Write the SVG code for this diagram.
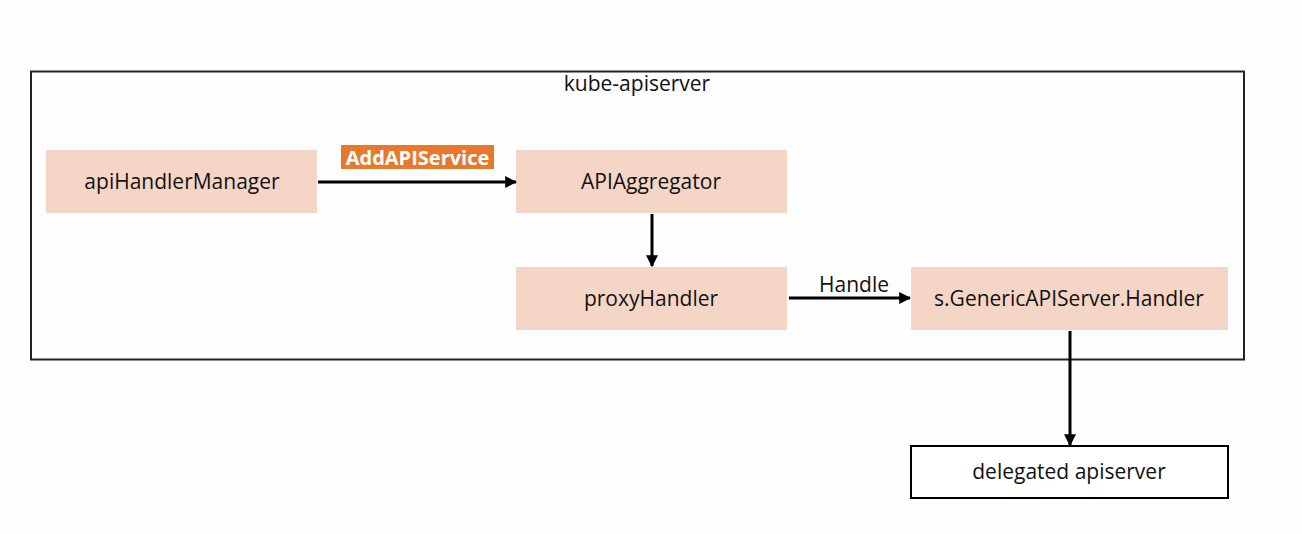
<svg xmlns="http://www.w3.org/2000/svg" width="1302" height="534" viewBox="0 0 1302 534">
<defs>
<style>
.box{fill:#F5D6C6;stroke:none}
.wbox{fill:#FFFFFF;stroke:#000;stroke-width:2}
.t{font-family:"Open Sans","Liberation Sans",sans-serif;font-size:21px;fill:#111;text-anchor:middle}
.c{stroke:#000;stroke-width:3;fill:none;marker-end:url(#ah)}
</style>
<marker id="ah" viewBox="0 0 10 10" refX="9" refY="5" markerWidth="4" markerHeight="4" orient="auto" markerUnits="strokeWidth">
<path d="M0,0 L10,5 L0,10 z" fill="#000"/>
</marker>
</defs>
<rect width="1302" height="534" fill="#FEFEFE"/>
<g id="kube-apiserver">
<rect x="31" y="71.5" width="1213" height="288" fill="none" stroke="#222" stroke-width="2"/>
<text class="t" x="637" y="91">kube-apiserver</text>
</g>
<g id="apiHandlerManager">
<rect class="box" x="46" y="150" width="271" height="63"/>
<text class="t" x="182" y="189">apiHandlerManager</text>
</g>
<g id="APIAggregator">
<rect class="box" x="516" y="150" width="271" height="63"/>
<text class="t" x="651" y="189">APIAggregator</text>
</g>
<g id="proxyHandler">
<rect class="box" x="516" y="267" width="271" height="63"/>
<text class="t" x="651" y="306">proxyHandler</text>
</g>
<g id="GenericAPIServerHandler">
<rect class="box" x="911" y="267" width="317" height="63"/>
<text class="t" x="1069" y="306">s.GenericAPIServer.Handler</text>
</g>
<g id="delegated-apiserver">
<rect class="wbox" x="911" y="446" width="317" height="52"/>
<text class="t" x="1069" y="479">delegated apiserver</text>
</g>
<g id="connectors">
<path class="c" d="M318,182 H516"/>
<rect x="341" y="145" width="153" height="24" fill="#E8792B"/>
<text class="t" x="417.5" y="164.5" style="fill:#fff;font-weight:bold;font-size:20px">AddAPIService</text>
<path class="c" d="M652,214 V266"/>
<path class="c" d="M789,298 H910"/>
<text class="t" x="854" y="292">Handle</text>
<path class="c" d="M1070,331 V445"/>
</g>
</svg>
